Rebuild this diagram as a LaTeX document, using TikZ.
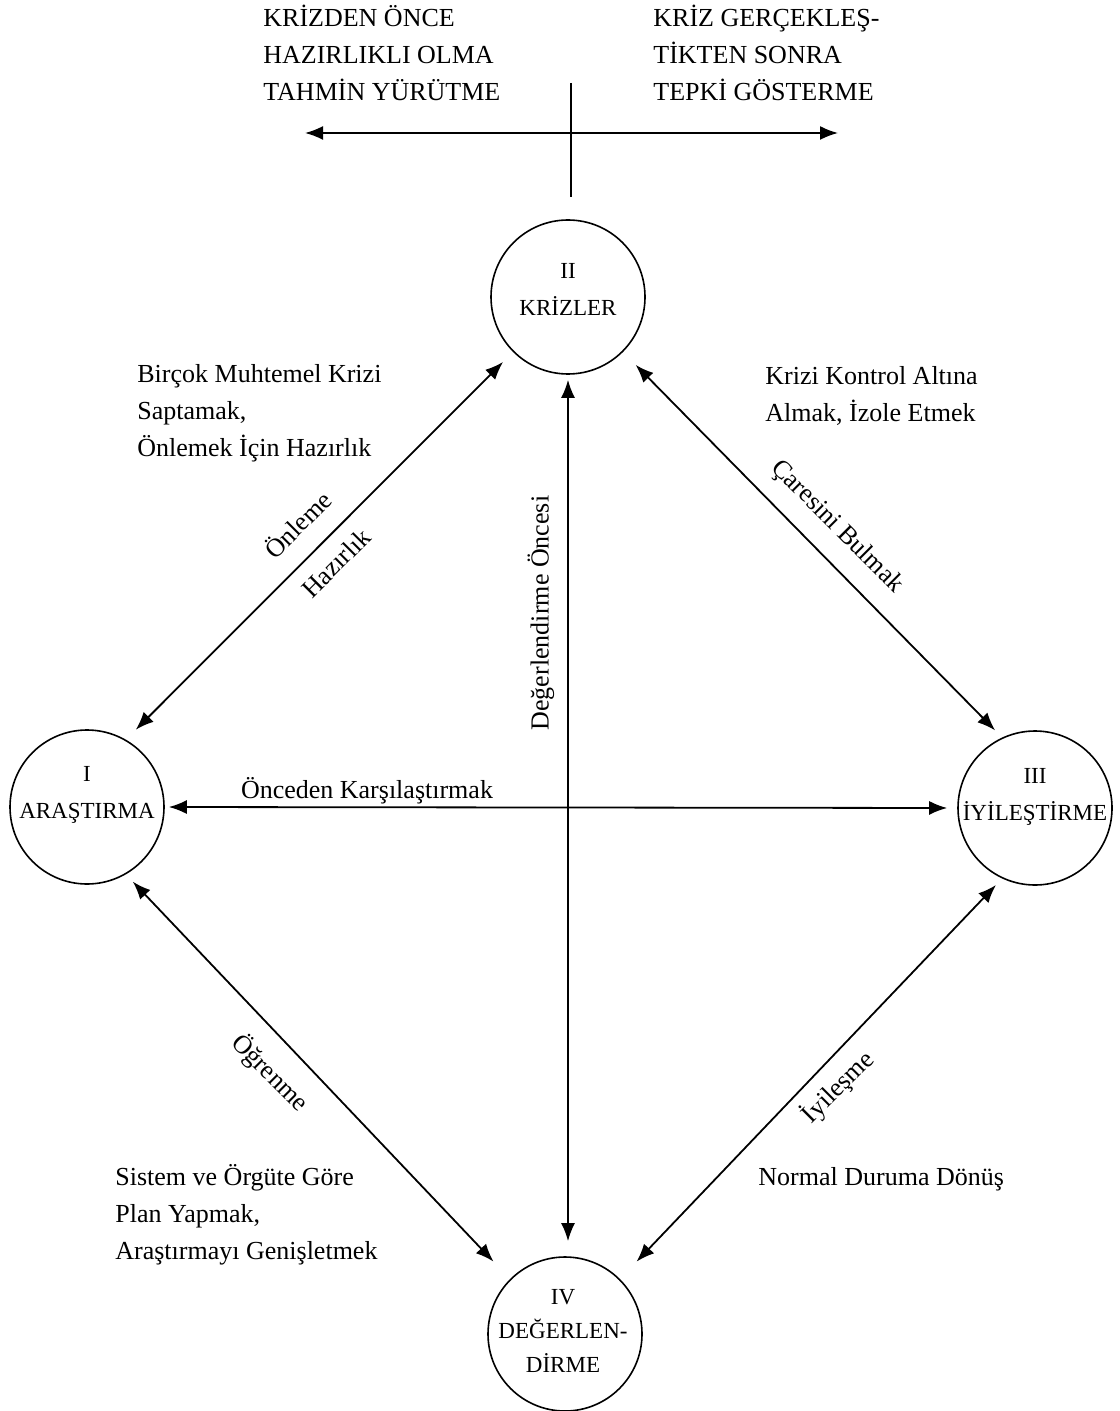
\documentclass[tikz,border=0pt]{standalone}
\usepackage{fontspec}
\setmainfont{Liberation Serif}
\usetikzlibrary{arrows.meta,calc}
\newcommand\blockstrut{\rule{0pt}{12.5pt}}
\newcommand\ringstrut{\rule{0pt}{11pt}}
\begin{document}
\begin{tikzpicture}[x=0.5pt,y=-0.5pt,
  ring/.style={circle,draw,line width=0.8pt,minimum size=77pt,inner sep=0pt},
  ringtext/.style={font=\fontsize{11.5}{18.5}\selectfont,align=center,anchor=north,inner sep=0pt},
  block/.style={font=\fontsize{13}{18.5}\selectfont,align=left,anchor=north west,inner sep=0pt},
  edgetext/.style={font=\fontsize{13}{15}\selectfont,inner sep=0pt},
  conn/.style={line width=0.9pt,{Latex[length=9pt,width=7pt]}-{Latex[length=9pt,width=7pt]}},
  plain/.style={line width=0.9pt}]
\useasboundingbox (0,0) rectangle (1119,1411);

% time axis: before / after the crisis
\coordinate (axisL) at (305,133);
\coordinate (axisR) at (838,133);
\coordinate (axisT) at (571,83);
\coordinate (axisB) at (571,197);
\draw[conn] (axisL) -- (axisR);
\draw[plain] (axisT) -- (axisB);
\node[block] (before) at (263,1) {\blockstrut KRİZDEN ÖNCE\\HAZIRLIKLI OLMA\\TAHMİN YÜRÜTME};
\node[block] (after) at (653,1) {\blockstrut KRİZ GERÇEKLEŞ-\\TİKTEN SONRA\\TEPKİ GÖSTERME};

% the four phases
\node[ring] (I)   at (87,807)   {};
\node[ring] (II)  at (568,297)  {};
\node[ring] (III) at (1035,808) {};
\node[ring] (IV)  at (565,1334) {};
\node[ringtext] (Ilab)   at (87,759)   {\ringstrut I\\ARAŞTIRMA};
\node[ringtext] (IIlab)  at (568,256)  {\ringstrut II\\KRİZLER};
\node[ringtext] (IIIlab) at (1035,761) {\ringstrut III\\İYİLEŞTİRME};
\node[ringtext,font=\fontsize{11.5}{17}\selectfont] (IVlab) at (563,1282) {\ringstrut IV\\DEĞERLEN-\\DİRME};

% connections between phases
\draw[conn,shorten <=7pt,shorten >=7pt] (II.225) -- (I.60);
\draw[conn,shorten <=9pt,shorten >=5pt] (II.315) -- (III.115);
\draw[conn,shorten <=5pt,shorten >=12pt] (I.300) -- (IV.135);
\draw[conn,shorten <=4.5pt,shorten >=12pt] (III.245) -- (IV.45);
\draw[conn,shorten <=2pt,shorten >=5pt] (I.east) -- (III.west);
\draw[conn,shorten <=2.5pt,shorten >=7.5pt] (II.south) -- (II.south |- IV.north);

% labels along the connections
\node[edgetext,rotate=45] (onleme) at (297,524) {Önleme};
\node[edgetext,rotate=45] (hazirlik) at (336,563) {Hazırlık};
\node[edgetext,rotate=-45] (caresini) at (837,527) {Çaresini Bulmak};
\node[edgetext,rotate=90] (oncesi) at (541,613) {Değerlendirme Öncesi};
\node[edgetext,anchor=base] (karsilastir) at (367,798) {Önceden Karşılaştırmak};
\node[edgetext,rotate=-45] (ogrenme) at (270,1073) {Öğrenme};
\node[edgetext,rotate=45] (iyilesme) at (838,1087) {İyileşme};

% descriptions of each transition
\node[block] (d1) at (137,357) {\blockstrut Birçok Muhtemel Krizi\\Saptamak,\\Önlemek İçin Hazırlık};
\node[block] (d2) at (765,359) {\blockstrut Krizi Kontrol Altına\\Almak, İzole Etmek};
\node[block] (d3) at (115,1160) {\blockstrut Sistem ve Örgüte Göre\\Plan Yapmak,\\Araştırmayı Genişletmek};
\node[block] (d4) at (758,1160) {\blockstrut Normal Duruma Dönüş};
\end{tikzpicture}
\end{document}
